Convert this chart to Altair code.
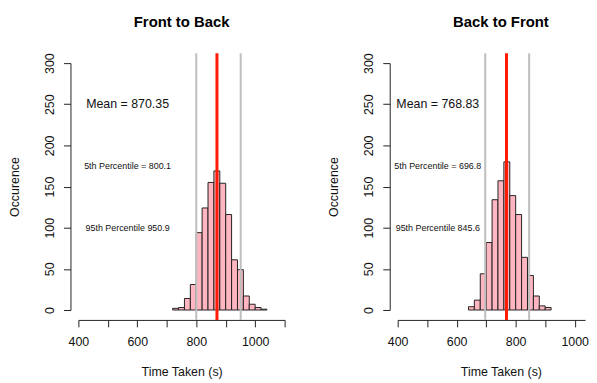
import altair as alt
import pandas as pd

FONT = "Liberation Sans"

BIN_WIDTH = 20
FTB_BIN_START = 720
FTB_COUNTS = [2, 3, 14, 31, 94, 124, 155, 169, 154, 116, 61, 49, 17, 7, 3, 1]
BTF_BIN_START = 640
BTF_COUNTS = [4, 12, 44, 82, 134, 157, 180, 139, 116, 64, 42, 17, 5, 3]

TITLES = ["Front to Back", "Back to Front"]
MEANS = [870.35, 768.83]
P5 = [800.1, 696.8]
P95 = [950.9, 845.6]
MEAN_LABELS = ["Mean = 870.35", "Mean = 768.83"]
P5_LABELS = ["5th Percentile = 800.1", "5th Percentile = 696.8"]
P95_LABELS = ["95th Percentile 950.9", "95th Percentile 845.6"]
LABEL_X = [567, 536]
MEAN_LABEL_Y = 250
P5_LABEL_Y = 175
P95_LABEL_Y = 100

X_TICKS = [400, 500, 600, 700, 800, 900, 1000, 1100]
Y_TICKS = [0, 50, 100, 150, 200, 250, 300]
X_DOMAINS = [[400, 1100], [400, 1035]]
Y_DOMAIN = [0, 300]
RULE_SPAN = [-12, 312]  # plot region extends 4% beyond the axis range
PX_PER_UNIT = 0.2976
PANEL_WIDTHS = [round((d[1] - d[0]) * PX_PER_UNIT) for d in X_DOMAINS]
PANEL_HEIGHT = 249
CENTER_VALUE = 750  # centre of R's plot region, where titles sit
TITLE_DX = [(CENTER_VALUE - X_DOMAINS[i][0]) * PX_PER_UNIT - PANEL_WIDTHS[i] / 2 for i in range(2)]


def panel(i, start, counts):
    bins = pd.DataFrame({
        "lo": [start + k * BIN_WIDTH for k in range(len(counts))],
        "count": counts,
    })
    bins["hi"] = bins["lo"] + BIN_WIDTH
    bins["base"] = 0

    xs = alt.Scale(domain=X_DOMAINS[i], nice=False, zero=False)
    ys = alt.Scale(domain=Y_DOMAIN, nice=False)
    xaxis = alt.Axis(
        values=X_TICKS, labelExpr="datum.value % 200 == 0 ? datum.label : ''",
        format="d", title="Time Taken (s)", offset=10, grid=False,
        tickSize=7, labelPadding=9, titlePadding=18, labelFlush=False,
        titleX=PANEL_WIDTHS[i] / 2 + TITLE_DX[i],
        domainColor="#222", tickColor="#222", labelColor="#111", titleColor="#111",
        labelFont=FONT, titleFont=FONT, labelFontSize=12.5, titleFontSize=12.5,
        titleFontWeight="normal",
    )
    yaxis = alt.Axis(
        values=Y_TICKS, title="Occurence", offset=8, grid=False,
        tickSize=7, labelPadding=7, titlePadding=22.5, labelFlush=False,
        labelAngle=270, labelAlign="center", labelBaseline="bottom",
        domainColor="#222", tickColor="#222", labelColor="#111", titleColor="#111",
        labelFont=FONT, titleFont=FONT, labelFontSize=12.5, titleFontSize=12.5,
        titleFontWeight="normal",
    )

    bars = alt.Chart(bins).mark_bar(
        fill="#FFB6C1", stroke="#222", strokeWidth=1
    ).encode(
        x=alt.X("lo:Q", scale=xs, axis=xaxis),
        x2="hi:Q",
        y=alt.Y("count:Q", scale=ys, axis=yaxis),
        y2="base:Q",
    )

    rules_df = pd.DataFrame({
        "v": [P5[i], P95[i], MEANS[i]],
        "kind": ["p", "p", "m"],
        "y0": [RULE_SPAN[0]] * 3,
        "y1": [RULE_SPAN[1]] * 3,
    })
    grey = alt.Chart(rules_df[rules_df.kind == "p"]).mark_rule(
        color="#BEBEBE", strokeWidth=2
    ).encode(
        x=alt.X("v:Q", scale=xs, axis=xaxis),
        y=alt.Y("y0:Q", scale=ys, axis=yaxis),
        y2="y1:Q",
    )
    red = alt.Chart(rules_df[rules_df.kind == "m"]).mark_rule(
        color="#FF1A00", strokeWidth=3
    ).encode(
        x=alt.X("v:Q", scale=xs, axis=xaxis),
        y=alt.Y("y0:Q", scale=ys, axis=yaxis),
        y2="y1:Q",
    )

    big_df = pd.DataFrame({"x": [LABEL_X[i]], "y": [MEAN_LABEL_Y], "t": [MEAN_LABELS[i]]})
    small_df = pd.DataFrame({
        "x": [LABEL_X[i], LABEL_X[i]],
        "y": [P5_LABEL_Y, P95_LABEL_Y],
        "t": [P5_LABELS[i], P95_LABELS[i]],
    })
    big = alt.Chart(big_df).mark_text(
        font=FONT, fontSize=12.5, color="#111", align="center", baseline="middle"
    ).encode(
        x=alt.X("x:Q", scale=xs, axis=xaxis),
        y=alt.Y("y:Q", scale=ys, axis=yaxis),
        text="t:N",
    )
    small = alt.Chart(small_df).mark_text(
        font=FONT, fontSize=9, color="#111", align="center", baseline="middle"
    ).encode(
        x=alt.X("x:Q", scale=xs, axis=xaxis),
        y=alt.Y("y:Q", scale=ys, axis=yaxis),
        text="t:N",
    )

    return alt.layer(bars, grey, red, big, small).properties(
        width=PANEL_WIDTHS[i],
        height=PANEL_HEIGHT,
        title=alt.TitleParams(
            TITLES[i], font=FONT, fontSize=15, fontWeight="bold", color="#000",
            anchor="middle", offset=22, dx=TITLE_DX[i],
        ),
    )


chart = alt.hconcat(
    panel(0, FTB_BIN_START, FTB_COUNTS),
    panel(1, BTF_BIN_START, BTF_COUNTS),
    spacing=42,
).properties(
    padding={"left": 0, "top": 5, "right": 0, "bottom": 0},
    background="white",
).configure_view(stroke=None)

chart.save("out.html", embed_options={"renderer": "svg", "actions": False})
